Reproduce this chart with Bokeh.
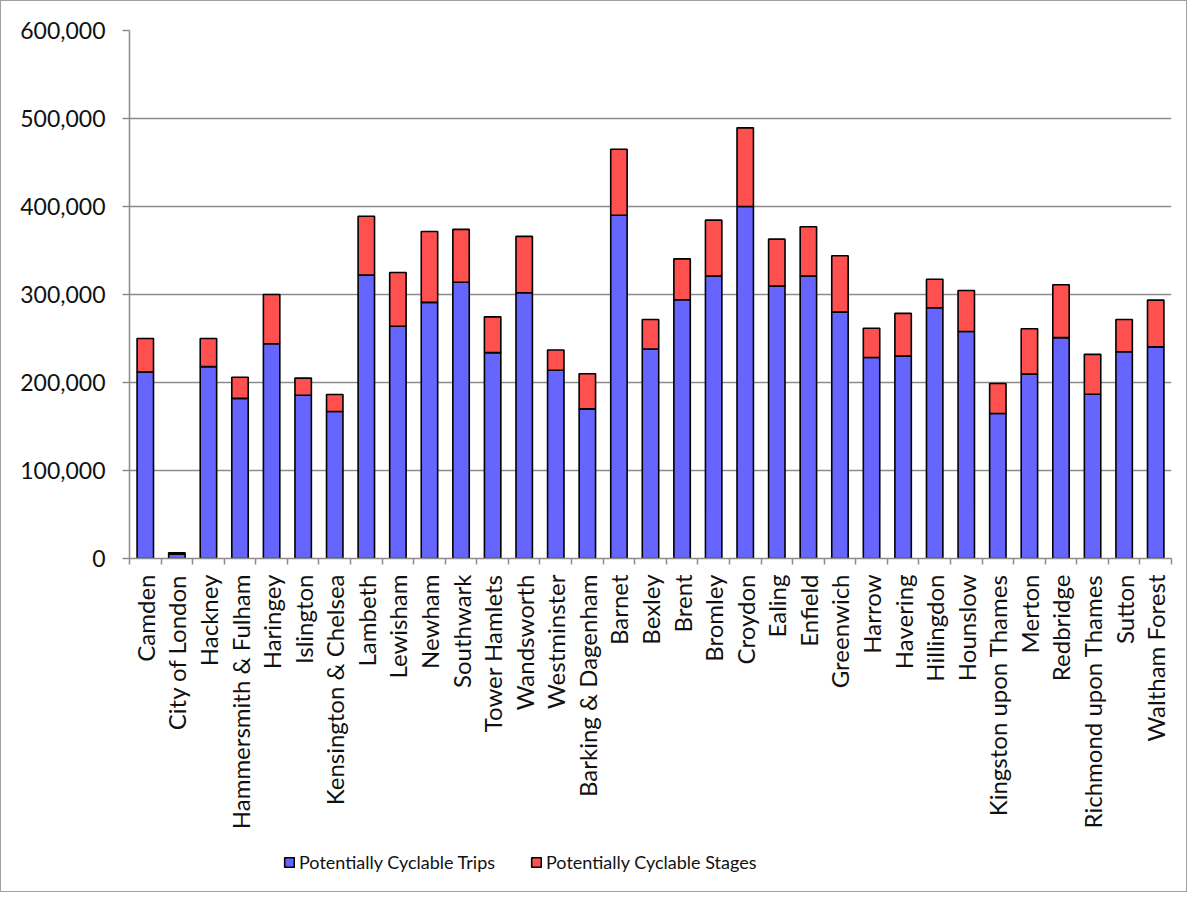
import math
import numpy as np
from bokeh.plotting import figure
from bokeh.layouts import column
from bokeh.models import (ColumnDataSource, FixedTicker, NumeralTickFormatter,
                          Range1d, Legend, LegendItem)
from bokeh.embed import file_html
from bokeh.resources import INLINE

boroughs = ["Camden", "City of London", "Hackney", "Hammersmith & Fulham", "Haringey",
            "Islington", "Kensington & Chelsea", "Lambeth", "Lewisham", "Newham",
            "Southwark", "Tower Hamlets", "Wandsworth", "Westminster", "Barking & Dagenham",
            "Barnet", "Bexley", "Brent", "Bromley", "Croydon", "Ealing", "Enfield",
            "Greenwich", "Harrow", "Havering", "Hillingdon", "Hounslow",
            "Kingston upon Thames", "Merton", "Redbridge", "Richmond upon Thames",
            "Sutton", "Waltham Forest"]

trips = [212000, 5000, 218000, 182000, 244000, 185500, 167000, 322000, 264000, 291000,
         314000, 234000, 302000, 214000, 170000, 390000, 238000, 294000, 321000, 400000,
         309500, 321000, 280000, 228400, 230000, 285000, 258000, 164800, 209500, 251000,
         186700, 235000, 240500]

totals = [250000, 6500, 250000, 206000, 300000, 205000, 186400, 389000, 325000, 371600,
          374000, 274600, 366000, 237000, 210000, 465000, 271600, 340500, 384500, 489400,
          362900, 377000, 344000, 261700, 278500, 317400, 304500, 198900, 261000, 311000,
          232000, 271600, 293600]

stages = [t - a for t, a in zip(totals, trips)]

series_names = ["Potentially Cyclable Trips", "Potentially Cyclable Stages"]

y_ticks = [0, 100000, 200000, 300000, 400000, 500000, 600000]

n = len(boroughs)
x = [i + 0.5 for i in range(n)]
source = ColumnDataSource(dict(x=x, trips=trips, stages=stages))

FONT = "Lato"
BLUE = "#6666FF"
RED = "#FF5050"
GRID = "#8c8c8c"
TEXT = "#111111"
W = 1185

p = figure(width=W, height=840, output_backend="svg", toolbar_location=None,
           x_range=Range1d(0, n), y_range=Range1d(0, 600000),
           min_border_left=128, min_border_right=W - 1170, min_border_top=29,
           min_border_bottom=840 - 557)
p.outline_line_color = None
p.background_fill_color = "white"
p.border_fill_color = "white"

rs = p.vbar_stack(["trips", "stages"], x="x", width=0.52, source=source,
                  color=[BLUE, RED], line_color="black", line_width=1.6)

# y axis
p.yaxis.ticker = FixedTicker(ticks=y_ticks)
p.yaxis.formatter = NumeralTickFormatter(format="0,0")
p.yaxis.major_tick_in = 0
p.yaxis.major_tick_out = 7
p.yaxis.minor_tick_line_color = None
p.yaxis.axis_line_color = GRID
p.yaxis.axis_line_width = 1.5
p.yaxis.major_tick_line_color = GRID
p.yaxis.major_tick_line_width = 1.5
p.yaxis.major_label_text_font = FONT
p.yaxis.major_label_text_font_size = "23px"
p.yaxis.major_label_text_color = TEXT
p.yaxis.major_label_standoff = 17

# x axis
p.xaxis.ticker = FixedTicker(ticks=x, minor_ticks=list(range(n + 1)))
p.xaxis.major_label_overrides = {xi: b for xi, b in zip(x, boroughs)}
p.xaxis.major_tick_in = 0
p.xaxis.major_tick_out = 0
p.xaxis.minor_tick_in = 0
p.xaxis.minor_tick_out = 6
p.xaxis.minor_tick_line_color = GRID
p.xaxis.minor_tick_line_width = 1.5
p.xaxis.axis_line_color = GRID
p.xaxis.axis_line_width = 1.5
p.xaxis.major_label_orientation = math.pi / 2
p.xaxis.major_label_text_font = FONT
p.xaxis.major_label_text_font_size = "24px"
p.xaxis.major_label_text_color = TEXT
p.xaxis.major_label_standoff = 10

p.xgrid.grid_line_color = None
p.ygrid.ticker = FixedTicker(ticks=y_ticks)
p.ygrid.grid_line_color = GRID
p.ygrid.grid_line_width = 1.5

# legend strip below the chart (its frame is aligned with the chart frame);
# its proxy bars have no height, so only the legend is drawn
proxy = ColumnDataSource(dict(x=np.array([0.5]), trips=np.array([np.nan]),
                              stages=np.array([np.nan])))
p2 = figure(width=W, height=50, output_backend="svg", toolbar_location=None,
            x_range=Range1d(0, 1), y_range=Range1d(0, 1),
            x_axis_location=None, y_axis_location=None,
            min_border_left=128, min_border_right=W - 1170, min_border_top=0,
            min_border_bottom=0)
p2.outline_line_color = None
p2.grid.grid_line_color = None
rs2 = p2.vbar_stack(["trips", "stages"], x="x", width=0.52, source=proxy,
                    color=[BLUE, RED], line_color="black", line_width=1.6)

legend = Legend(items=[LegendItem(label=series_names[0], renderers=[rs2[0]]),
                       LegendItem(label=series_names[1], renderers=[rs2[1]])],
                orientation="horizontal", location=(154, 18),
                glyph_width=12, glyph_height=12, label_standoff=4, spacing=35,
                padding=0, margin=0, border_line_color=None,
                background_fill_alpha=0,
                label_text_font=FONT, label_text_font_size="18px",
                label_text_color=TEXT)
p2.add_layout(legend, "center")

layout = column(p, p2, spacing=0)
layout.styles = {"border": "1px solid #a0a0a0"}

open("out.html", "w").write(file_html(layout, INLINE))
